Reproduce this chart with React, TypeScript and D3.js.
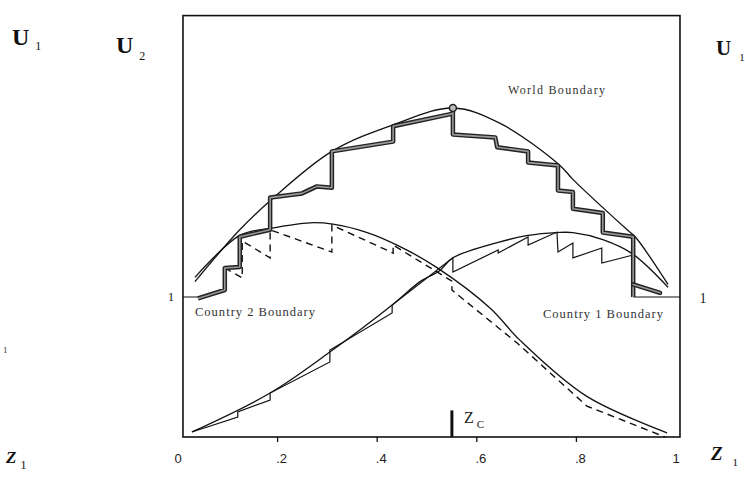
import React from 'react';
import * as d3 from 'd3';

// horizontal axis: share of industries Z1, vertical: utility
const zTicks = [0.2, 0.4, 0.6, 0.8];
const zLabels = ['0', '.2', '.4', '.6', '.8', '1'];
const zLabelValues = [0, 0.2, 0.4, 0.6, 0.8, 1];

// smooth boundaries [z, u]
const worldBoundary: [number, number][] = [
  [0.034, 1.11], [0.124, 1.48], [0.189, 1.7], [0.309, 2.04], [0.432, 2.23],
  [0.552, 2.35], [0.647, 2.24], [0.767, 1.94], [0.793, 1.84], [0.902, 1.48],
  [0.918, 1.43], [0.984, 1.09],
];
const country1Boundary: [number, number][] = [
  [0.028, 0.036], [0.185, 0.314], [0.305, 0.607], [0.43, 0.943], [0.486, 1.11],
  [0.526, 1.19], [0.552, 1.28], [0.643, 1.39], [0.703, 1.44], [0.761, 1.46],
  [0.793, 1.46], [0.853, 1.41], [0.912, 1.31], [0.984, 1.07],
];
const country2Boundary: [number, number][] = [
  [0.034, 1.14], [0.124, 1.44], [0.185, 1.49], [0.265, 1.53], [0.311, 1.52],
  [0.38, 1.46], [0.446, 1.36], [0.52, 1.21], [0.627, 0.92], [0.687, 0.69],
  [0.821, 0.29], [0.982, 0.03],
];

// stepped world equilibria (thick grey line)
const worldSteps: [number, number][] = [
  [0.04, 0.99], [0.094, 1.05], [0.094, 1.207], [0.124, 1.214], [0.124, 1.43],
  [0.185, 1.48], [0.185, 1.71], [0.249, 1.74], [0.279, 1.79], [0.309, 1.78],
  [0.309, 2.04], [0.432, 2.11], [0.432, 2.22], [0.552, 2.31], [0.552, 2.35],
  [0.552, 2.16], [0.637, 2.14], [0.641, 2.07], [0.703, 2.04], [0.703, 1.96],
  [0.763, 1.94], [0.763, 1.76], [0.793, 1.75], [0.793, 1.63], [0.853, 1.6],
  [0.853, 1.46], [0.914, 1.43], [0.914, 1.0],
];
const worldTail: [number, number][] = [[0.914, 1.09], [0.968, 1.03]];
const worldPeak: [number, number] = [0.552, 2.35];

// country 1 sawtooth (thin solid)
const country1Saw: [number, number][] = [
  [0.028, 0.036], [0.12, 0.143], [0.12, 0.179], [0.185, 0.264], [0.185, 0.314],
  [0.305, 0.536], [0.305, 0.621], [0.43, 0.886], [0.43, 0.943], [0.552, 1.28],
  [0.552, 1.179], [0.643, 1.336], [0.643, 1.314], [0.703, 1.429], [0.703, 1.371],
  [0.761, 1.464], [0.763, 1.321], [0.793, 1.386], [0.793, 1.279], [0.851, 1.35],
  [0.851, 1.243], [0.914, 1.3],
];

// country 2 sawtooth (dashed)
const country2Saw: [number, number][] = [
  [0.094, 1.207], [0.129, 1.136], [0.129, 1.4], [0.185, 1.279], [0.185, 1.48],
  [0.309, 1.321], [0.309, 1.514], [0.432, 1.314], [0.432, 1.371], [0.52, 1.179],
  [0.55, 1.114], [0.55, 1.05], [0.681, 0.671], [0.821, 0.221], [0.978, 0.0],
];

const zC = 0.55;
const oneLevel = 1;
const frameZ = [0.01, 1.008];
const frameU = [0, 3.01];

const serif = '"Liberation Serif", "Times New Roman", serif';
const sans = '"Liberation Sans", Arial, sans-serif';

const App = () => {
  const width = 745;
  const height = 477;
  const x = d3.scaleLinear().domain([0, 1]).range([178, 676]);
  const y = d3.scaleLinear().domain([0, 1]).range([437, 297]);

  const smooth = d3
    .line<[number, number]>()
    .x((d) => x(d[0]))
    .y((d) => y(d[1]))
    .curve(d3.curveCatmullRom.alpha(0.5));
  const straight = d3
    .line<[number, number]>()
    .x((d) => x(d[0]))
    .y((d) => y(d[1]));

  const fx0 = x(frameZ[0]);
  const fx1 = x(frameZ[1]);
  const fy0 = y(frameU[1]);
  const fy1 = y(frameU[0]);

  return (
    <svg
      width={width}
      height={height}
      style={{ position: 'absolute', left: 0, top: 0, background: '#fff' }}
    >
      {/* frame */}
      <rect x={fx0} y={fy0} width={fx1 - fx0} height={fy1 - fy0} fill="none" stroke="#111" strokeWidth={1.6} />

      {/* ticks */}
      {zTicks.map((t) => (
        <line key={t} x1={x(t)} x2={x(t)} y1={fy1} y2={fy1 + 5} stroke="#111" strokeWidth={1.3} />
      ))}
      {zLabelValues.map((t, i) => (
        <text
          key={t}
          x={x(t) + (zLabels[i].startsWith('.') ? 4 : 0)}
          y={463}
          textAnchor="middle"
          fontFamily={sans}
          fontSize={13}
          fill="#222"
        >
          {zLabels[i]}
        </text>
      ))}

      {/* u = 1 reference segments */}
      <line x1={fx0} x2={x(worldSteps[0][0])} y1={y(oneLevel)} y2={y(oneLevel)} stroke="#111" strokeWidth={1} />
      <line x1={x(0.914)} x2={fx1} y1={y(oneLevel)} y2={y(oneLevel)} stroke="#111" strokeWidth={1} />
      <text x={171} y={y(oneLevel) + 4} textAnchor="middle" fontFamily={serif} fontSize={13} fill="#222">1</text>
      <text x={703} y={y(oneLevel) + 6} textAnchor="middle" fontFamily={serif} fontSize={14} fill="#222">1</text>

      {/* smooth boundaries */}
      <path d={smooth(worldBoundary) ?? ''} fill="none" stroke="#111" strokeWidth={1.3} />
      <path d={smooth(country1Boundary) ?? ''} fill="none" stroke="#111" strokeWidth={1.3} />
      <path d={smooth(country2Boundary) ?? ''} fill="none" stroke="#111" strokeWidth={1.3} />

      {/* sawtooth equilibria */}
      <path d={straight(country1Saw) ?? ''} fill="none" stroke="#111" strokeWidth={1.2} />
      <path d={straight(country2Saw) ?? ''} fill="none" stroke="#111" strokeWidth={1.4} strokeDasharray="7,5" />

      {/* thick world steps */}
      <path d={straight(worldSteps) ?? ''} fill="none" stroke="#222" strokeWidth={4.5} strokeLinejoin="round" />
      <path d={straight(worldSteps) ?? ''} fill="none" stroke="#999" strokeWidth={1.6} strokeLinejoin="round" />
      <path d={straight(worldTail) ?? ''} fill="none" stroke="#222" strokeWidth={4.5} strokeLinecap="round" />
      <path d={straight(worldTail) ?? ''} fill="none" stroke="#999" strokeWidth={1.6} strokeLinecap="round" />
      <circle cx={x(worldPeak[0])} cy={y(worldPeak[1])} r={3.5} fill="#bbb" stroke="#222" strokeWidth={1.5} />

      {/* Zc marker */}
      <line x1={x(zC)} x2={x(zC)} y1={y(0.19)} y2={fy1} stroke="#111" strokeWidth={3} />
      <text x={x(zC) + 12} y={y(0.1)} fontFamily={serif} fontSize={16} fill="#222">
        Z
        <tspan fontSize={11} dx={3} dy={5}>C</tspan>
      </text>

      {/* labels */}
      <text x={508} y={94} fontFamily={serif} fontSize={12} textLength={97} fill="#333">World Boundary</text>
      <text x={195} y={316} fontFamily={serif} fontSize={12.5} textLength={120} fill="#333">Country 2 Boundary</text>
      <text x={543} y={318} fontFamily={serif} fontSize={12.5} textLength={120} fill="#333">Country 1 Boundary</text>

      {/* axis titles */}
      <text x={12} y={45} fontFamily={serif} fontSize={24} fontWeight="bold" fill="#111">
        U<tspan fontSize={12} fontWeight="normal" dx={6} dy={5}>1</tspan>
      </text>
      <text x={116} y={53} fontFamily={serif} fontSize={24} fontWeight="bold" fill="#111">
        U<tspan fontSize={12} fontWeight="normal" dx={6} dy={7}>2</tspan>
      </text>
      <text x={716} y={55} fontFamily={serif} fontSize={21} fontWeight="bold" fill="#111">
        U<tspan fontSize={11} fontWeight="normal" dx={8} dy={6}>1</tspan>
      </text>
      <text x={6} y={463} fontFamily={serif} fontSize={17} fontWeight="bold" fontStyle="italic" fill="#111">
        Z<tspan fontSize={12} fontWeight="normal" fontStyle="normal" dx={4} dy={6}>1</tspan>
      </text>
      <text x={711} y={460} fontFamily={serif} fontSize={19} fontWeight="bold" fontStyle="italic" fill="#111">
        Z<tspan fontSize={11} fontWeight="normal" fontStyle="normal" dx={10} dy={6}>1</tspan>
      </text>
      <text x={3} y={353} fontFamily={serif} fontSize={9} fill="#333">1</text>
    </svg>
  );
};

export default App;
